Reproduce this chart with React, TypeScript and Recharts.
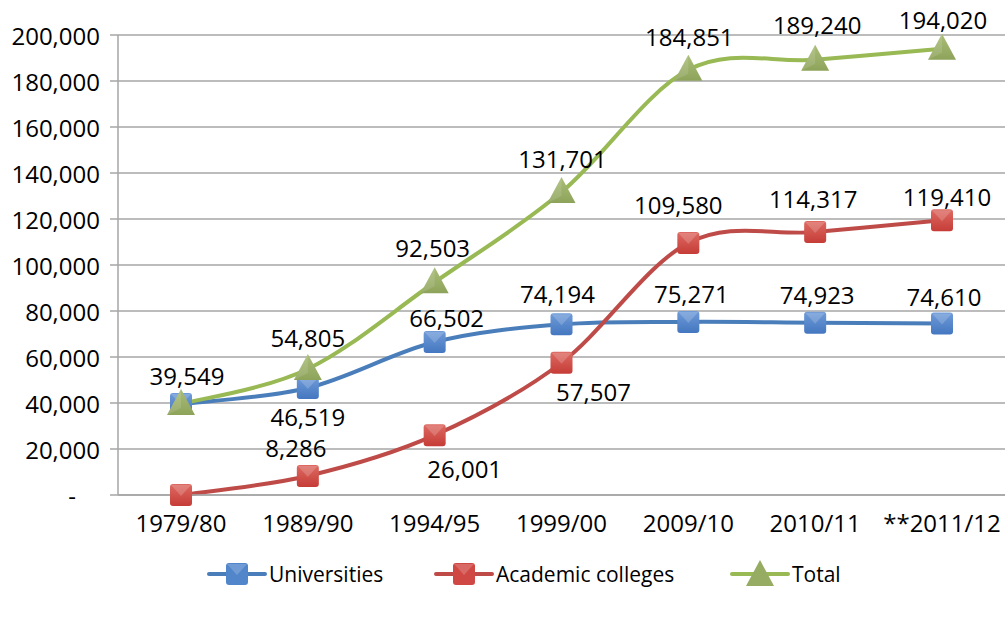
import React from 'react';
import { LineChart, Line, XAxis, YAxis, CartesianGrid, LabelList } from 'recharts';

const categories = ['1979/80', '1989/90', '1994/95', '1999/00', '2009/10', '2010/11', '**2011/12'];
const universities = [39549, 46519, 66502, 74194, 75271, 74923, 74610];
const colleges = [0, 8286, 26001, 57507, 109580, 114317, 119410];
const total = [39549, 54805, 92503, 131701, 184851, 189240, 194020];
const yTicks = [0, 20000, 40000, 60000, 80000, 100000, 120000, 140000, 160000, 180000, 200000];

const data = categories.map((c, i) => ({
  name: c,
  universities: universities[i],
  colleges: colleges[i],
  total: total[i],
}));

// label nudges (dx, dy of text centre from the point), null = no label
const uniLabelPos: ([number, number] | null)[] = [null, [0, 28], [12, -25], [-4, -31], [3, -28], [2, -28], [2, -27]];
const colLabelPos: ([number, number] | null)[] = [null, [-12, -28], [30, 33], [32, 29], [-10, -38], [-2, -34], [5, -24]];
const totLabelPos: ([number, number] | null)[] = [[6, -29], [0, -31], [-2, -35], [1, -34], [1, -33], [2, -35], [1, -29]];

const FONT = '"Open Sans", sans-serif';
const BLUE = '#4A7EBB';
const RED = '#BE4B48';
const GREEN = '#98B954';

// excel-like smoothing (catmull-rom through the points)
const excelSmooth = (context: any) => {
  let pts: number[][] = [];
  return {
    areaStart() {},
    areaEnd() {},
    lineStart() { pts = []; },
    point(x: number, y: number) { pts.push([+x, +y]); },
    lineEnd() {
      const n = pts.length;
      if (!n) return;
      context.moveTo(pts[0][0], pts[0][1]);
      for (let i = 0; i < n - 1; i++) {
        const p0 = pts[Math.max(i - 1, 0)];
        const p1 = pts[i];
        const p2 = pts[i + 1];
        const p3 = pts[Math.min(i + 2, n - 1)];
        context.bezierCurveTo(
          p1[0] + (p2[0] - p0[0]) / 6, p1[1] + (p2[1] - p0[1]) / 6,
          p2[0] - (p3[0] - p1[0]) / 6, p2[1] - (p3[1] - p1[1]) / 6,
          p2[0], p2[1]
        );
      }
    },
  };
};

const SquareDot = (props: any) => {
  const { cx, cy, gid } = props;
  if (cx == null || cy == null) return null;
  return (
    <g>
      <rect x={cx - 11} y={cy - 11} width={22} height={22} rx={3} fill={`url(#${gid})`} />
      <polygon points={`${cx - 10},${cy - 10} ${cx + 10},${cy - 10} ${cx},${cy + 1}`} fill="#fff" opacity={0.18} />
    </g>
  );
};

const TriangleDot = (props: any) => {
  const { cx, cy } = props;
  if (cx == null || cy == null) return null;
  return (
    <g>
      <polygon points={`${cx},${cy - 15} ${cx + 14},${cy + 11} ${cx - 14},${cy + 11}`} fill="url(#gGreen)" />
      <polygon points={`${cx},${cy - 15} ${cx},${cy + 4} ${cx - 14},${cy + 11}`} fill="#fff" opacity={0.12} />
    </g>
  );
};

const makeLabel = (pos: ([number, number] | null)[]) => (props: any) => {
  const { x, y, value, index } = props;
  const p = pos[index];
  if (!p || x == null) return null;
  return (
    <text x={x + p[0]} y={y + p[1]} textAnchor="middle" dominantBaseline="central"
      fontFamily={FONT} fontSize={24} fill="#000">
      {Number(value).toLocaleString('en-US')}
    </text>
  );
};

const YTick = (props: any) => {
  const { x, y, payload } = props;
  const v = payload.value;
  return (
    <text x={v === 0 ? x - 24 : x} y={y} textAnchor="end" dominantBaseline="central"
      fontFamily={FONT} fontSize={24} fill="#000">
      {v === 0 ? '-' : v.toLocaleString('en-US')}
    </text>
  );
};

const LegendIcon = ({ color, shape, fill }: { color: string; shape: string; fill: string }) => (
  <svg width={60} height={28} style={{ display: 'block' }}>
    <line x1={2} y1={14} x2={58} y2={14} stroke={color} strokeWidth={4} strokeLinecap="round" />
    {shape === 'square' ? (
      <g>
        <rect x={19} y={3} width={22} height={22} rx={3} fill={fill} />
        <polygon points="20,4 40,4 30,15" fill="#fff" opacity={0.18} />
      </g>
    ) : (
      <polygon points="30,0 44,26 16,26" fill={fill} />
    )}
  </svg>
);

const legendItems = [
  { label: 'Universities', color: BLUE, shape: 'square', fill: '#5286CB', left: 207 },
  { label: 'Academic colleges', color: RED, shape: 'square', fill: '#D04843', left: 434 },
  { label: 'Total', color: GREEN, shape: 'triangle', fill: '#97AC63', left: 730 },
];

export default function App() {
  return (
    <div style={{ position: 'absolute', left: 0, top: 0, width: 1005, height: 617, background: '#fff' }}>
      <LineChart width={1005} height={617} data={data} margin={{ top: 35, right: 0, bottom: 0, left: 0 }}>
        <defs>
          <linearGradient id="gBlue" x1="0" y1="0" x2="0" y2="1">
            <stop offset="0%" stopColor="#6F9BD8" />
            <stop offset="100%" stopColor="#4477C0" />
          </linearGradient>
          <linearGradient id="gRed" x1="0" y1="0" x2="0" y2="1">
            <stop offset="0%" stopColor="#DD6A62" />
            <stop offset="100%" stopColor="#C63C37" />
          </linearGradient>
          <linearGradient id="gGreen" x1="0" y1="0" x2="0" y2="1">
            <stop offset="0%" stopColor="#A9BD78" />
            <stop offset="100%" stopColor="#8EA35A" />
          </linearGradient>
        </defs>
        <CartesianGrid vertical={false} stroke="#A6A6A6" strokeWidth={1.5} />
        <XAxis dataKey="name" height={122} tickSize={0} tickMargin={20} axisLine={{ stroke: '#A6A6A6', strokeWidth: 1.5 }}
          tick={{ fontFamily: FONT, fontSize: 24, fill: '#000' }} interval={0} padding={{ left: 63, right: 63 }} />
        <YAxis width={118} domain={[0, 200000]} ticks={yTicks} tickSize={8} tickMargin={10}
          axisLine={{ stroke: '#A6A6A6', strokeWidth: 1.5 }} tickLine={{ stroke: '#A6A6A6', strokeWidth: 1.5 }}
          tick={<YTick />} interval={0} />
        <Line dataKey="universities" type={excelSmooth as any} stroke={BLUE} strokeWidth={4}
          dot={<SquareDot gid="gBlue" />} isAnimationActive={false}>
          <LabelList dataKey="universities" content={makeLabel(uniLabelPos)} />
        </Line>
        <Line dataKey="colleges" type={excelSmooth as any} stroke={RED} strokeWidth={4}
          dot={<SquareDot gid="gRed" />} isAnimationActive={false}>
          <LabelList dataKey="colleges" content={makeLabel(colLabelPos)} />
        </Line>
        <Line dataKey="total" type={excelSmooth as any} stroke={GREEN} strokeWidth={4}
          dot={<TriangleDot />} isAnimationActive={false}>
          <LabelList dataKey="total" content={makeLabel(totLabelPos)} />
        </Line>
      </LineChart>
      {legendItems.map((it) => (
        <div key={it.label} style={{ position: 'absolute', left: it.left, top: 560, display: 'flex', alignItems: 'center' }}>
          <LegendIcon color={it.color} shape={it.shape} fill={it.fill} />
          <span style={{ fontFamily: FONT, fontSize: 21, color: '#000', marginLeft: 2, lineHeight: '28px' }}>{it.label}</span>
        </div>
      ))}
    </div>
  );
}
